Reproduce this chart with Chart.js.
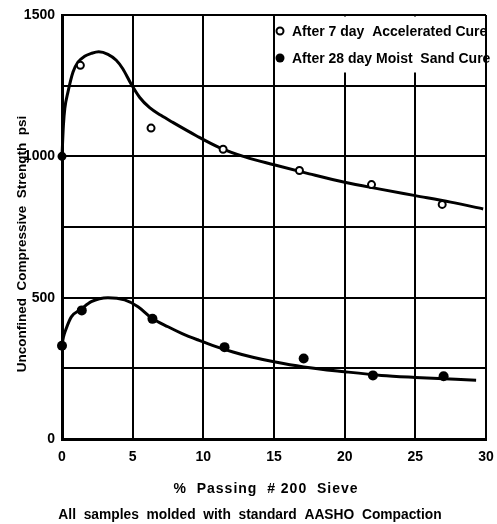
<!DOCTYPE html>
<html>
<head>
<meta charset="utf-8">
<script src="https://cdn.jsdelivr.net/npm/chart.js"></script>
<style>
html,body{margin:0;padding:0;background:#fff;}
#wrap{width:497px;height:524px;}
</style>
</head>
<body>
<div id="wrap"><canvas id="c" width="497" height="524"></canvas></div>
<script>
// ---- data ----
const xTicks = [0, 5, 10, 15, 20, 25, 30];
const yTickLabels = [0, 500, 1000, 1500];

const series1Label = "After 7 day  Accelerated Cure";
const series1X = [0, 1.3, 6.3, 11.4, 16.8, 21.9, 26.9];
const series1Y = [1000, 1322, 1100, 1025, 950, 900, 830];

const series2Label = "After 28 day Moist  Sand Cure";
const series2X = [0, 1.4, 6.4, 11.5, 17.1, 22.0, 27.0];
const series2Y = [330, 455, 425, 325, 285, 225, 222];

const curve1X = [0, 0.1, 0.2, 0.42, 0.78, 1.13, 1.6, 2.07, 2.6, 3.25, 3.84, 4.3, 4.9, 5.5, 6.2, 7.0, 7.84, 9.5, 11.1, 13, 15, 17.5, 20, 22.5, 25, 27.5, 29.8];
const curve1Y = [1000, 1110, 1170, 1227, 1298, 1333, 1354, 1364, 1370, 1361, 1340, 1310, 1255, 1208, 1172, 1145, 1120, 1073, 1032, 997, 970, 938, 908, 884, 861, 838, 814];

const curve2X = [0, 0.1, 0.3, 0.66, 1.37, 2.07, 3.25, 4.43, 5.38, 6.32, 7.5, 8.5, 9.7, 10.9, 12.1, 13.5, 15, 17.1, 20, 22.6, 25, 29.3];
const curve2Y = [330, 360, 391, 432, 460, 486, 500, 492, 468, 429, 397, 373, 349, 327, 308, 289, 273, 255, 238, 225, 218, 208];

const xTitle = "%  Passing  # 200  Sieve";
const yTitle = "Unconfined  Compressive  Strength  psi";
const subTitle = "All  samples  molded  with  standard  AASHO  Compaction";

const toPts = (xs, ys) => xs.map((x, i) => ({x: x, y: ys[i]}));
const FONT = "'Liberation Sans', Arial, sans-serif";

const textPlugin = {
  id: 'texts',
  beforeDatasetsDraw(chart) {
    const {ctx, chartArea, scales} = chart;
    const lx = scales.x.getPixelForValue(15);
    ctx.save();
    ctx.fillStyle = '#fff';
    ctx.fillRect(lx + 1.5, chartArea.top + 1.5, chartArea.right - lx - 3, 56);
    ctx.restore();
  },
  afterDraw(chart) {
    const {ctx, scales} = chart;
    const lx = scales.x.getPixelForValue(15);
    ctx.save();
    ctx.fillStyle = '#000';
    ctx.strokeStyle = '#000';
    ctx.font = "bold 14px " + FONT;
    ctx.textBaseline = 'middle';
    ctx.textAlign = 'left';
    ctx.beginPath();
    ctx.lineWidth = 2;
    ctx.arc(lx + 6, 31, 3.5, 0, Math.PI * 2);
    ctx.stroke();
    ctx.fillText(series1Label, lx + 18, 32);
    ctx.beginPath();
    ctx.arc(lx + 6, 58, 4.5, 0, Math.PI * 2);
    ctx.fill();
    ctx.fillText(series2Label, lx + 18, 59);

    ctx.textAlign = 'center';
    ctx.font = "bold 14px " + FONT;
    ctx.letterSpacing = '1px';
    ctx.fillText(xTitle, 266, 489);
    ctx.letterSpacing = '0px';
    ctx.font = "bold 13.8px " + FONT;
    ctx.fillText(subTitle, 250, 515);
    ctx.translate(22, 244);
    ctx.rotate(-Math.PI / 2);
    ctx.font = "bold 13.5px " + FONT;
    ctx.fillText(yTitle, 0, 0);
    ctx.restore();
  }
};

new Chart(document.getElementById('c'), {
  type: 'scatter',
  data: {
    datasets: [
      {
        label: series1Label,
        data: toPts(series1X, series1Y),
        showLine: false,
        pointRadius: 3.5,
        pointBorderWidth: 2,
        pointBorderColor: '#000',
        pointBackgroundColor: series1X.map((x, i) => i === 0 ? '#000' : '#fff'),
        clip: false,
        order: 0
      },
      {
        label: series2Label,
        data: toPts(series2X, series2Y),
        showLine: false,
        pointRadius: 5,
        pointBorderWidth: 0,
        pointBackgroundColor: '#000',
        clip: false,
        order: 0
      },
      {
        label: 'curve1',
        data: toPts(curve1X, curve1Y),
        showLine: true,
        borderColor: '#000',
        borderWidth: 3,
        pointRadius: 0,
        cubicInterpolationMode: 'monotone',
        clip: false,
        order: 1
      },
      {
        label: 'curve2',
        data: toPts(curve2X, curve2Y),
        showLine: true,
        borderColor: '#000',
        borderWidth: 3,
        pointRadius: 0,
        cubicInterpolationMode: 'monotone',
        clip: false,
        order: 1
      }
    ]
  },
  options: {
    responsive: false,
    animation: false,
    layout: {padding: {left: 0, right: 11, top: 15, bottom: 0}},
    plugins: {
      legend: {display: false},
      tooltip: {enabled: false},
      title: {display: false}
    },
    scales: {
      x: {
        type: 'linear',
        min: 0, max: 30,
        afterFit(s) { s.height = 85; s.paddingRight = 0; s.paddingLeft = 0; },
        afterBuildTicks(s) { s.ticks = xTicks.map(v => ({value: v})); },
        grid: {color: '#000', lineWidth: 2, drawTicks: false},
        border: {color: '#000', width: 3},
        ticks: {
          color: '#000',
          padding: 10,
          font: {family: FONT, size: 14, weight: 'bold'}
        }
      },
      y: {
        type: 'linear',
        min: 0, max: 1500,
        afterFit(s) { s.width = 62; s.paddingTop = 0; s.paddingBottom = 0; },
        ticks: {
          stepSize: 250,
          color: '#000',
          padding: 7,
          font: {family: FONT, size: 14, weight: 'bold'},
          callback: (v) => yTickLabels.includes(v) ? String(v) : ''
        },
        grid: {color: '#000', lineWidth: 2, drawTicks: false},
        border: {color: '#000', width: 3}
      }
    }
  },
  plugins: [textPlugin]
});
</script>
</body>
</html>
